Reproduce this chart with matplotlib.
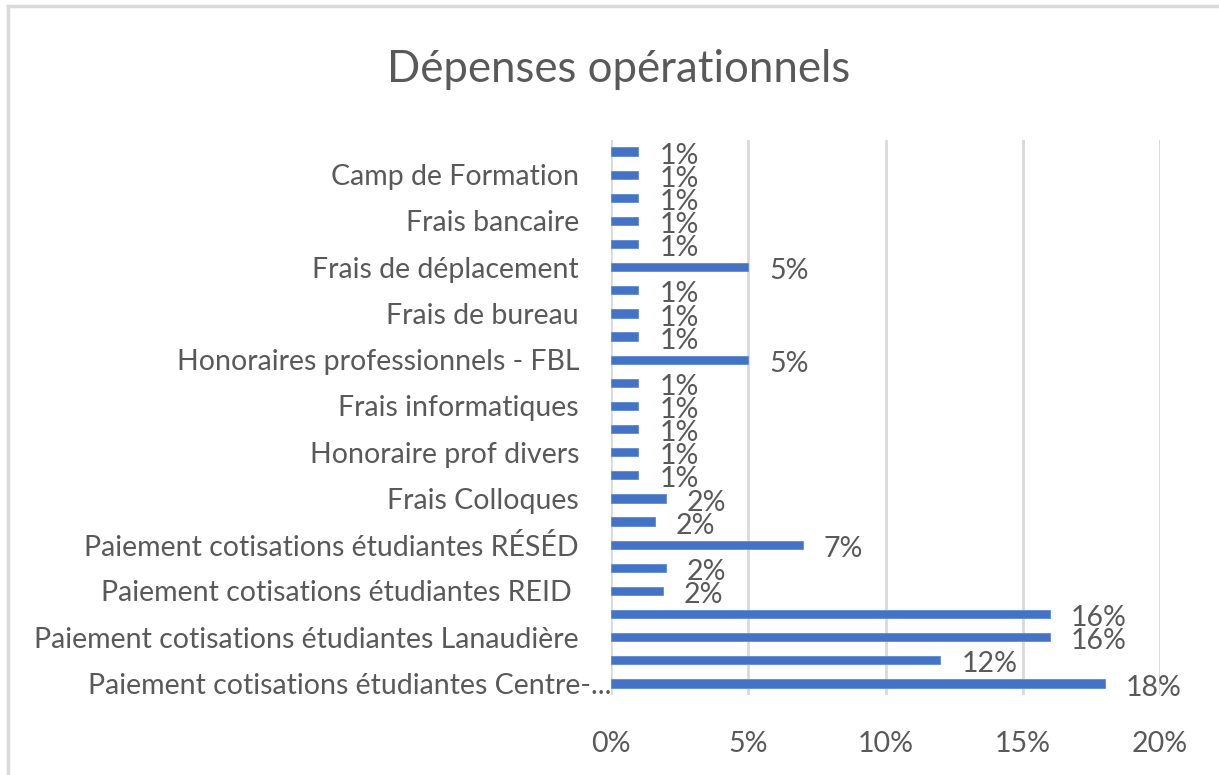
import matplotlib
matplotlib.use("Agg")
import matplotlib.pyplot as plt
from matplotlib.lines import Line2D
from matplotlib.transforms import ScaledTranslation

plt.rcParams['font.family'] = ['Lato', 'DejaVu Sans']

title = "Dépenses opérationnels"
# bottom to top; empty strings are categories whose labels Excel skipped
categories = [
    "Paiement cotisations étudiantes Centre-...", "",
    "Paiement cotisations étudiantes Lanaudière", "",
    "Paiement cotisations étudiantes REID ", "",
    "Paiement cotisations étudiantes RÉSÉD", "",
    "Frais Colloques", "",
    "Honoraire prof divers", "",
    "Frais informatiques", "",
    "Honoraires professionnels - FBL", "",
    "Frais de bureau", "",
    "Frais de déplacement", "",
    "Frais bancaire", "",
    "Camp de Formation", "",
]
values = [18.0, 12.0, 16.0, 16.0, 1.9, 2.0, 7.0, 1.6, 2.0, 1.0,
          1.0, 1.0, 1.0, 1.0, 5.0, 1.0, 1.0, 1.0, 5.0, 1.0,
          1.0, 1.0, 1.0, 1.0]
xticks = [0, 5, 10, 15, 20]
xticklabels = ["0%", "5%", "10%", "15%", "20%"]

W, H = 1219, 775
fig = plt.figure(figsize=(W / 100, H / 100), dpi=100)
ax = fig.add_axes([611 / W, 1 - 695 / H, (1160 - 611) / W, (695 - 140) / H])

txt = '#595959'
grid = '#D9D9D9'
bar_color = '#4472C4'

ypos = list(range(len(values)))
ax.barh(ypos, values, height=0.36, color=bar_color, edgecolor='#5B8BD8', linewidth=0.6, zorder=3)

for y, v in zip(ypos, values):
    ax.annotate(f"{v:.0f}%", xy=(v, y), xytext=(15, -3), textcoords='offset points',
                ha='left', va='center', fontsize=20.5, color=txt)

ax.set_xlim(0, 20)
ax.set_ylim(-0.5, len(values) - 0.5)
ax.set_xticks(xticks)
ax.set_xticklabels(xticklabels, fontsize=20.5, color=txt)
ax.set_yticks(ypos)
ax.set_yticklabels(categories, fontsize=20.5, color=txt)
ax.tick_params(axis='both', length=0)
ax.tick_params(axis='x', pad=26)
ax.tick_params(axis='y', pad=23)
ax.grid(axis='x', color=grid, linewidth=2, zorder=0)
ax.set_axisbelow(True)
for s in ax.spines.values():
    s.set_visible(False)

# the truncated bottom label runs up to the axis in the reference
lbl = ax.get_yticklabels()[0]
lbl.set_transform(lbl.get_transform() + ScaledTranslation(0.32, 0, fig.dpi_scale_trans))

fig.text(619 / W, 1 - 70 / H, title, ha='center', va='center', fontsize=31.5, color=txt)

# chart border (top and left visible in the crop)
fig.add_artist(Line2D([8 / W, 1.01], [1 - 6 / H, 1 - 6 / H], transform=fig.transFigure,
                      color=grid, linewidth=2.5))
fig.add_artist(Line2D([8 / W, 8 / W], [-0.01, 1 - 6 / H], transform=fig.transFigure,
                      color=grid, linewidth=2.5))

fig.savefig("out.png", dpi=100)
